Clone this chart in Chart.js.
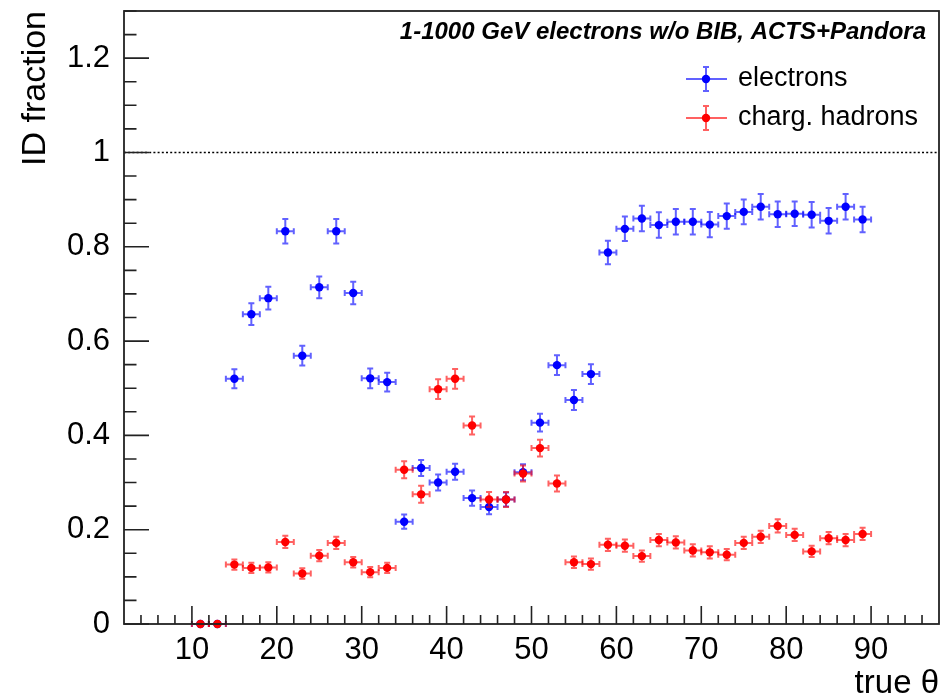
<!DOCTYPE html>
<html>
<head>
<meta charset="utf-8">
<script src="https://cdn.jsdelivr.net/npm/chart.js@4.4.1/dist/chart.umd.min.js"></script>
<style>
  html, body { margin: 0; padding: 0; background: #fff; }
  canvas { display: block; }
</style>
</head>
<body>
<canvas id="c" width="952" height="700"></canvas>
<script>
// ---------------- DATA ----------------
const thetaBins = [11,13,15,17,19,21,23,25,27,29,31,33,35,37,39,41,43,45,47,49,
                   51,53,55,57,59,61,63,65,67,69,71,73,75,77,79,81,83,85,87,89];
const binHalfWidth = 1;

const electronFrac = [0,0,0.520,0.657,0.691,0.833,0.569,0.714,0.833,0.702,
                      0.521,0.513,0.217,0.331,0.300,0.323,0.267,0.248,0.264,0.322,
                      0.427,0.549,0.475,0.530,0.788,0.838,0.860,0.846,0.853,0.853,
                      0.847,0.865,0.874,0.885,0.869,0.870,0.868,0.855,0.885,0.858];
const electronErr  = [0,0,0.020,0.023,0.024,0.026,0.021,0.023,0.026,0.024,
                      0.021,0.020,0.015,0.017,0.017,0.017,0.016,0.015,0.015,0.017,
                      0.019,0.021,0.021,0.021,0.025,0.026,0.027,0.027,0.027,0.027,
                      0.027,0.027,0.026,0.027,0.027,0.026,0.027,0.027,0.027,0.027];

const hadronFrac   = [0,0,0.126,0.119,0.120,0.174,0.107,0.145,0.172,0.131,
                      0.110,0.119,0.327,0.275,0.498,0.520,0.421,0.264,0.264,0.319,
                      0.373,0.298,0.131,0.127,0.168,0.166,0.144,0.178,0.173,0.156,
                      0.152,0.147,0.172,0.185,0.208,0.189,0.154,0.182,0.178,0.191];
const hadronErr    = [0,0,0.011,0.011,0.011,0.013,0.011,0.012,0.013,0.011,
                      0.011,0.011,0.018,0.018,0.021,0.021,0.019,0.016,0.016,0.017,
                      0.018,0.017,0.012,0.012,0.013,0.013,0.012,0.013,0.013,0.013,
                      0.013,0.012,0.013,0.013,0.014,0.013,0.012,0.013,0.013,0.013];

const xTickValues = [10,20,30,40,50,60,70,80,90];
const xTickLabels = ['10','20','30','40','50','60','70','80','90'];
const yTickValues = [0,0.2,0.4,0.6,0.8,1,1.2];
const yTickLabels = ['0','0.2','0.4','0.6','0.8','1','1.2'];

const seriesNames = ['electrons','charg. hadrons'];
const headerText = '1-1000 GeV electrons w/o BIB, ACTS+Pandora';
const xTitle = 'true \u03B8';
const yTitle = 'ID fraction';

// ---------------- STYLE ----------------
const FONT = '"Liberation Sans", Arial, Helvetica, sans-serif';
const colors = ['#0000ff', '#ff0000'];
const barColors = ['rgba(0,0,255,0.62)', 'rgba(255,0,0,0.62)'];
const drawOrder = [1, 0];
const errs = [electronErr, hadronErr];
const fracs = [electronFrac, hadronFrac];

function drawErrorBar(ctx, xs, ys, x, y, xe, ye, color) {
  const px = xs.getPixelForValue(x);
  const py = ys.getPixelForValue(y);
  const x1 = xs.getPixelForValue(x - xe);
  const x2 = xs.getPixelForValue(x + xe);
  const cap = 3;
  ctx.strokeStyle = color;
  ctx.lineWidth = 2;
  ctx.beginPath();
  ctx.moveTo(x1, py); ctx.lineTo(x2, py);
  ctx.moveTo(x1, py - cap); ctx.lineTo(x1, py + cap);
  ctx.moveTo(x2, py - cap); ctx.lineTo(x2, py + cap);
  if (ye > 0) {
    const y1 = ys.getPixelForValue(y - ye);
    const y2 = ys.getPixelForValue(y + ye);
    ctx.moveTo(px, y1); ctx.lineTo(px, y2);
    ctx.moveTo(px - cap, y1); ctx.lineTo(px + cap, y1);
    ctx.moveTo(px - cap, y2); ctx.lineTo(px + cap, y2);
  }
  ctx.stroke();
}

const rootPlugin = {
  id: 'rootStyle',
  beforeDatasetsDraw(chart) {
    const ctx = chart.ctx, xs = chart.scales.x, ys = chart.scales.y;
    const a = chart.chartArea;
    ctx.save();
    ctx.strokeStyle = '#000';
    ctx.lineWidth = 1.6;
    ctx.setLineDash([2, 2.2]);
    const py = ys.getPixelForValue(1);
    ctx.beginPath();
    ctx.moveTo(a.left, py); ctx.lineTo(a.right, py);
    ctx.stroke();
    ctx.restore();
  },
  beforeDatasetDraw(chart, args) {
    const ctx = chart.ctx, xs = chart.scales.x, ys = chart.scales.y;
    const i = args.index;
    ctx.save();
    thetaBins.forEach((x, k) => {
      drawErrorBar(ctx, xs, ys, x, fracs[i][k], binHalfWidth, errs[i][k], barColors[i]);
    });
    ctx.restore();
  },
  afterDraw(chart) {
    const ctx = chart.ctx, xs = chart.scales.x, ys = chart.scales.y;
    const a = chart.chartArea;
    ctx.save();
    ctx.strokeStyle = '#222';
    ctx.lineWidth = 1.8;
    ctx.strokeRect(a.left, a.top, a.right - a.left, a.bottom - a.top);
    ctx.lineWidth = 1.6;
    ctx.beginPath();
    for (let k = 0; k <= 26; k++) {
      const v = k * 0.05;
      const p = ys.getPixelForValue(v);
      const len = (k % 4 === 0) ? 25 : 12.5;
      ctx.moveTo(a.left, p); ctx.lineTo(a.left + len, p);
    }
    for (let v = 4; v <= 96; v += 2) {
      const p = xs.getPixelForValue(v);
      const len = (v % 10 === 0) ? 18 : 9;
      ctx.moveTo(p, a.bottom); ctx.lineTo(p, a.bottom - len);
    }
    ctx.stroke();

    ctx.fillStyle = '#000';
    ctx.font = 'italic bold 24px ' + FONT;
    ctx.textAlign = 'right';
    ctx.textBaseline = 'alphabetic';
    ctx.fillText(headerText, 926, 39);

    const legY = [79, 118];
    for (let i = 0; i < 2; i++) {
      const cx = 706, cy = legY[i];
      ctx.strokeStyle = barColors[i];
      ctx.lineWidth = 2;
      ctx.beginPath();
      ctx.moveTo(686, cy); ctx.lineTo(727, cy);
      ctx.moveTo(cx, cy - 12); ctx.lineTo(cx, cy + 12);
      ctx.moveTo(cx - 3, cy - 12); ctx.lineTo(cx + 3, cy - 12);
      ctx.moveTo(cx - 3, cy + 12); ctx.lineTo(cx + 3, cy + 12);
      ctx.stroke();
      ctx.fillStyle = colors[i];
      ctx.beginPath();
      ctx.arc(cx, cy, 4.2, 0, Math.PI * 2);
      ctx.fill();
      ctx.fillStyle = '#000';
      ctx.font = '27px ' + FONT;
      ctx.textAlign = 'left';
      ctx.textBaseline = 'middle';
      ctx.fillText(seriesNames[i], 738, cy);
    }
    ctx.restore();
  }
};

new Chart(document.getElementById('c'), {
  type: 'scatter',
  data: {
    datasets: [0, 1].map(i => ({
      label: seriesNames[i],
      data: thetaBins.map((x, k) => ({ x: x, y: fracs[i][k] })),
      order: drawOrder[i],
      backgroundColor: colors[i],
      borderColor: colors[i],
      borderWidth: 0,
      pointRadius: 4.2,
      pointHoverRadius: 4.2,
      showLine: false,
      clip: false
    }))
  },
  options: {
    responsive: false,
    animation: false,
    devicePixelRatio: 1,
    events: [],
    layout: { padding: { top: 11, right: 13, left: 0, bottom: 0 } },
    plugins: { legend: { display: false }, tooltip: { enabled: false } },
    scales: {
      x: {
        type: 'linear', min: 2, max: 98,
        afterBuildTicks: s => { s.ticks = xTickValues.map(v => ({ value: v })); },
        afterFit: s => { s.height = 76; s.paddingLeft = 0; s.paddingRight = 0; },
        grid: { display: false },
        border: { display: false },
        ticks: {
          color: '#000', padding: 0, maxRotation: 0, autoSkip: false,
          font: { family: FONT, size: 31 },
          callback: (v, idx) => xTickLabels[idx]
        },
        title: {
          display: true, text: xTitle, align: 'end', color: '#000',
          font: { family: FONT, size: 33, lineHeight: 1 }, padding: { top: 0, bottom: 0 }
        }
      },
      y: {
        type: 'linear', min: 0, max: 1.3,
        afterBuildTicks: s => { s.ticks = yTickValues.map(v => ({ value: v })); },
        afterFit: s => { s.width = 124; s.paddingTop = 0; s.paddingBottom = 0; },
        grid: { display: false },
        border: { display: false },
        ticks: {
          color: '#000', padding: 6, autoSkip: false,
          font: { family: FONT, size: 31 },
          callback: (v, idx) => yTickLabels[idx]
        },
        title: {
          display: true, text: yTitle, align: 'end', color: '#000',
          font: { family: FONT, size: 34 }, padding: { top: 15, bottom: 0 }
        }
      }
    }
  },
  plugins: [rootPlugin]
});
</script>
</body>
</html>
